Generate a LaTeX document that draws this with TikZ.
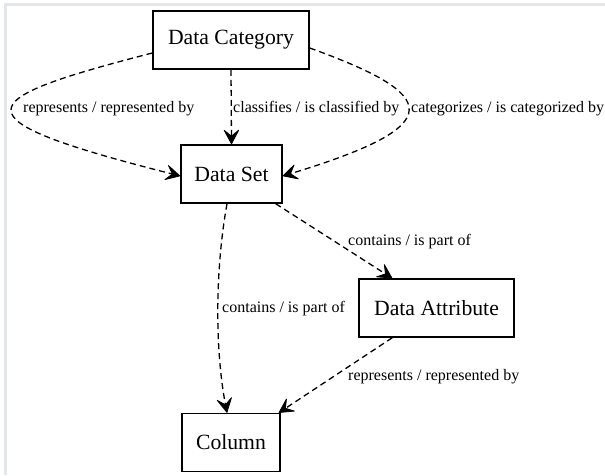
\documentclass[tikz,border=0pt]{standalone}
\usepackage{fontspec}
\setmainfont{Liberation Serif}
\usetikzlibrary{arrows.meta}
\definecolor{framegray}{HTML}{E3E7EA}
\tikzset{
  entity/.style={draw, line width=1.5pt, minimum height=58pt, inner sep=0pt,
    font=\fontsize{21.7}{26}\selectfont},
  rel/.style={dashed, line width=1.3pt, dash pattern=on 6pt off 4pt,
    -{Stealth[length=16pt,width=17pt,inset=7pt,line width=0.8pt,round]}},
  lbl/.style={inner sep=0pt, anchor=base west, font=\fontsize{16}{19}\selectfont}
}
\begin{document}
\begin{tikzpicture}[x=1pt,y=-1pt]
\useasboundingbox (0,0) rectangle (605,475);
\fill[white] (0,0) rectangle (605,475);
\fill[framegray] (4,3.3) rectangle (605,5.7);
\fill[framegray] (4,3.3) rectangle (6.6,475);

\node[entity, minimum width=156pt] (dc) at (231,40) {Data Category};
\node[entity, minimum width=101pt] (ds) at (231.5,174) {Data Set};
\node[entity, minimum width=155pt] (da) at (436.5,308) {Data Attribute};
\node[entity, minimum width=98pt] (col) at (231,442.5) {Column};

\draw[rel] (dc.south) -- (ds.north);
\draw[rel] ([yshift=-13pt]dc.west) .. controls (-30,100) and (-49,118) .. ([yshift=-2pt]ds.west);
\draw[rel] ([yshift=-8pt]dc.east) .. controls (440,95) and (451,125) .. ([yshift=-2pt]ds.east);
\draw[rel] ([xshift=-7pt]ds.south east) -- ([xshift=34pt]da.north west);
\draw[rel] ([xshift=-4.5pt]ds.south) .. controls (215,270) and (215,350) .. ([xshift=-4pt]col.north);
\draw[rel] ([xshift=34pt]da.south west) -- ([xshift=-2pt]col.north east);

\node[lbl] (l1) at (23,112) {represents / represented by};
\node[lbl] (l2) at (233,112) {classifies / is classified by};
\node[lbl] (l3) at (411,112) {categorizes / is categorized by};
\node[lbl] (l4) at (348,245) {contains / is part of};
\node[lbl] (l5) at (222,312) {contains / is part of};
\node[lbl] (l6) at (348,380) {represents / represented by};
\end{tikzpicture}
\end{document}
